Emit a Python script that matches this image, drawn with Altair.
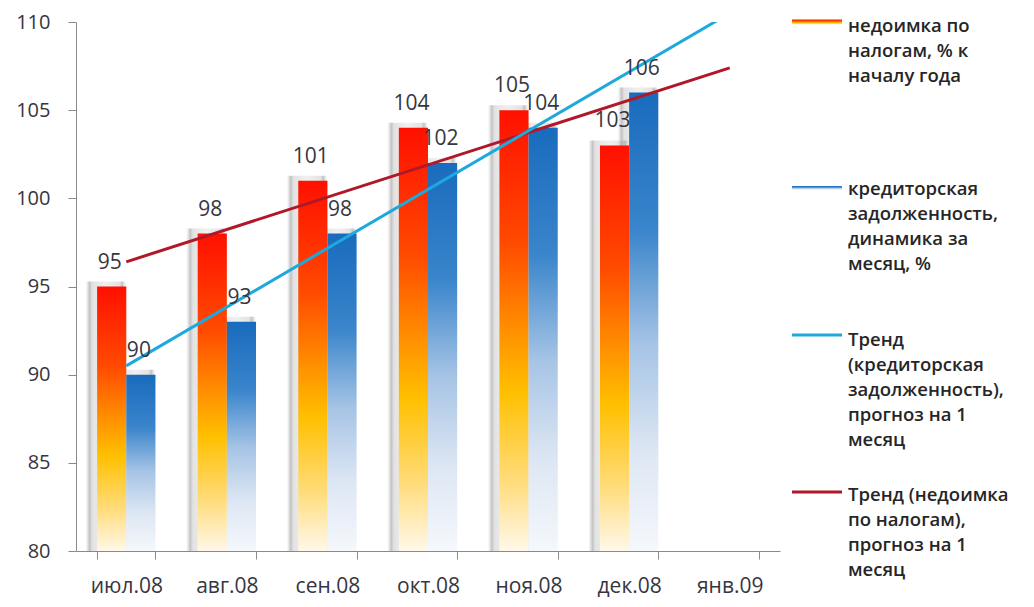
import altair as alt
import pandas as pd

# ---- data ----
months = ["июл.08", "авг.08", "сен.08", "окт.08", "ноя.08", "дек.08", "янв.09"]
bar_months = ["июл.08", "авг.08", "сен.08", "окт.08", "ноя.08", "дек.08"]
nedoimka = [95, 98, 101, 104, 105, 103]
kredit = [90, 93, 98, 102, 104, 106]
series_names = ["недоимка", "кредиторская"]

trend_months = ["июл.08", "янв.09"]
trend_kredit = [90.5, 110.5]
trend_nedoimka = [96.4, 107.4]

legend_labels = [
    "недоимка по\nналогам, % к\nначалу года",
    "кредиторская\nзадолженность,\nдинамика за\nмесяц, %",
    "Тренд\n(кредиторская\nзадолженность),\nпрогноз на 1\nмесяц",
    "Тренд (недоимка\nпо налогам),\nпрогноз на 1\nмесяц",
]
y_ticks = [80, 85, 90, 95, 100, 105, 110]

# ---- tables ----
bars = pd.DataFrame(
    [{"month": m, "series": series_names[0], "value": v} for m, v in zip(bar_months, nedoimka)]
    + [{"month": m, "series": series_names[1], "value": v} for m, v in zip(bar_months, kredit)]
)
trends = pd.DataFrame(
    [{"month": m, "series": "kred", "value": v} for m, v in zip(trend_months, trend_kredit)]
    + [{"month": m, "series": "ned", "value": v} for m, v in zip(trend_months, trend_nedoimka)]
)

FONT = "Open Sans"
AX = "#8a8a8a"
TXT = "#363640"

red_grad = alt.Gradient(
    gradient="linear", x1=0, x2=0, y1=0, y2=1,
    stops=[
        alt.GradientStop(offset=0, color="#ff1000"),
        alt.GradientStop(offset=0.3, color="#ff4a00"),
        alt.GradientStop(offset=0.5, color="#ff9000"),
        alt.GradientStop(offset=0.64, color="#ffc000"),
        alt.GradientStop(offset=0.84, color="#ffdc7a"),
        alt.GradientStop(offset=1, color="#fff8ea"),
    ],
)
blue_grad = alt.Gradient(
    gradient="linear", x1=0, x2=0, y1=0, y2=1,
    stops=[
        alt.GradientStop(offset=0, color="#196bbd"),
        alt.GradientStop(offset=0.3, color="#3a85cb"),
        alt.GradientStop(offset=0.55, color="#a6c4e5"),
        alt.GradientStop(offset=0.78, color="#dce6f3"),
        alt.GradientStop(offset=1, color="#f5f8fc"),
    ],
)
shadow_grad = alt.Gradient(
    gradient="linear", x1=0, x2=1, y1=0, y2=0,
    stops=[
        alt.GradientStop(offset=0, color="rgba(170,170,170,0)"),
        alt.GradientStop(offset=0.1, color="rgba(120,120,120,0.45)"),
        alt.GradientStop(offset=0.17, color="rgba(160,160,160,0.3)"),
        alt.GradientStop(offset=0.5, color="rgba(185,185,185,0.22)"),
        alt.GradientStop(offset=0.83, color="rgba(160,160,160,0.3)"),
        alt.GradientStop(offset=0.9, color="rgba(120,120,120,0.45)"),
        alt.GradientStop(offset=1, color="rgba(170,170,170,0)"),
    ],
)

x_enc = alt.X(
    "month:N",
    scale=alt.Scale(domain=months, paddingInner=0.42, paddingOuter=0.21),
    axis=alt.Axis(
        title=None, labelAngle=0, tickBand="extent", tickSize=8,
        labelPadding=16, labelFontSize=21, labelFont=FONT, labelColor=TXT,
        domainColor=AX, tickColor=AX, grid=False,
    ),
)
y_enc = alt.Y(
    "value:Q",
    scale=alt.Scale(domain=[80, 110], zero=False, nice=False),
    axis=alt.Axis(
        title=None, values=y_ticks, tickSize=8, labelPadding=18,
        labelFontSize=20, labelFont=FONT, labelColor=TXT,
        domainColor=AX, tickColor=AX, grid=False,
    ),
)
xo_enc = alt.XOffset(
    "series:N", scale=alt.Scale(domain=series_names, paddingInner=0, paddingOuter=0)
)

base = alt.Chart(bars)

shadow = base.mark_bar(
    fill=shadow_grad, width=alt.RelativeBandSize(band=1.4), yOffset=-5, clip=True
).encode(x=x_enc, y=y_enc, y2=alt.Y2Datum(80), xOffset=xo_enc)

red_bars = base.transform_filter(
    alt.datum.series == series_names[0]
).mark_bar(fill=red_grad).encode(x=x_enc, y=y_enc, y2=alt.Y2Datum(80), xOffset=xo_enc)

blue_bars = base.transform_filter(
    alt.datum.series == series_names[1]
).mark_bar(fill=blue_grad).encode(x=x_enc, y=y_enc, y2=alt.Y2Datum(80), xOffset=xo_enc)

labels = base.mark_text(
    baseline="alphabetic", dy=-18, dx=-2, fontSize=21, font=FONT, color=TXT
).encode(x=x_enc, y=y_enc, xOffset=xo_enc, text=alt.Text("value:Q"))

trend_k = alt.Chart(trends).transform_filter(alt.datum.series == "kred").mark_line(
    color="#1ea8dc", strokeWidth=3, clip=True
).encode(x=x_enc, y=y_enc)
trend_n = alt.Chart(trends).transform_filter(alt.datum.series == "ned").mark_line(
    color="#b0182a", strokeWidth=3, clip=True
).encode(x=x_enc, y=y_enc)

# ---- legend (right side) ----
sym_x, sym_x2, txt_x = 716, 766, 772
sym_y = [0, 166, 313, 470]
txt_y = [10, 173, 324, 479]
leg_layers = []
leg_layers.append(
    alt.Chart(pd.DataFrame({"k": [0]})).mark_rect(fill=red_grad).encode(
        x=alt.value(sym_x), x2=alt.value(sym_x2),
        y=alt.value(sym_y[0] - 2.5), y2=alt.value(sym_y[0] + 2.5))
)
leg_layers.append(
    alt.Chart(pd.DataFrame({"k": [0]})).mark_rect(fill=blue_grad).encode(
        x=alt.value(sym_x), x2=alt.value(sym_x2),
        y=alt.value(sym_y[1] - 2), y2=alt.value(sym_y[1] + 2))
)
for col, yy in [("#1ea8dc", sym_y[2]), ("#b0182a", sym_y[3])]:
    leg_layers.append(
        alt.Chart(pd.DataFrame({"k": [0]})).mark_rule(color=col, strokeWidth=3).encode(
            x=alt.value(sym_x), x2=alt.value(sym_x2), y=alt.value(yy))
    )
for lab, yy in zip(legend_labels, txt_y):
    leg_layers.append(
        alt.Chart(pd.DataFrame({"t": [lab]})).mark_text(
            align="left", baseline="alphabetic", lineBreak="\n", lineHeight=25,
            fontSize=18.5, font=FONT, fontWeight=600, color="#262626",
        ).encode(x=alt.value(txt_x), y=alt.value(yy), text="t:N")
    )

chart = alt.layer(
    shadow, red_bars, blue_bars, trend_n, trend_k, labels, *leg_layers
).properties(
    width=704, height=529,
    padding={"left": 68, "top": 14, "right": 238, "bottom": 48},
    autosize=alt.AutoSizeParams(type="none"),
    background="white",
).configure_view(stroke=None)

chart.save("out.html", embed_options={"renderer": "svg", "actions": False})
